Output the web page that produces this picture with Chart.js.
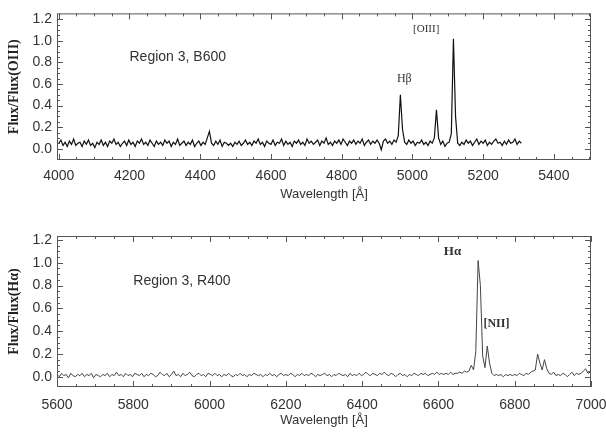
<!DOCTYPE html>
<html lang="en">
<head>
  <meta charset="UTF-8">
  <title>Region 3 spectra</title>
  <script src="https://cdn.jsdelivr.net/npm/chart.js"></script>
  <style>
    body {
      margin: 0;
      background: #fff;
    }
    canvas {
      display: block;
    }
  </style>
</head>
<body>
  <canvas id="blue-chart" width="606" height="216"></canvas>
  <canvas id="red-chart" width="606" height="217"></canvas>

  <script>
    // Blue spectrum (B600), sampled every 6 A from 4000 A
    const blueStart = 4000;
    const blueStep = 6;
    const blueFlux = [
      0.05, 0.08, 0.03, 0.06, 0.02, 0.07, 0.04, 0.09, 0.03, 0.05,
      0.06, 0.02, 0.07, 0.04, 0.08, 0.03, 0.05, 0.01, 0.06, 0.04,
      0.08, 0.03, 0.06, 0.02, 0.07, 0.05, 0.09, 0.04, 0.06, 0.02,
      0.05, 0.07, 0.03, 0.08, 0.04, 0.06, 0.02, 0.07, 0.05, 0.09,
      0.04, 0.06, 0.03, 0.08, 0.05, 0.02, 0.07, 0.04, 0.06, 0.03,
      0.08, 0.05, 0.07, 0.02, 0.06, 0.04, 0.09, 0.03, 0.05, 0.07,
      0.03, 0.06, 0.04, 0.08, 0.02, 0.05, 0.07, 0.03, 0.06, 0.04,
      0.10, 0.16, 0.05, 0.03, 0.07, 0.04, 0.08, 0.02, 0.06, 0.05,
      0.03, 0.05, 0.02, 0.06, 0.04, 0.07, 0.03, 0.05, 0.08, 0.04,
      0.06, 0.03, 0.07, 0.05, 0.09, 0.04, 0.06, 0.02, 0.07, 0.05,
      0.04, 0.08, 0.03, 0.06, 0.05, 0.09, 0.03, 0.07, 0.04, 0.06,
      0.02, 0.07, 0.05, 0.08, 0.04, 0.06, 0.03, 0.09, 0.05, 0.07,
      0.04, 0.06, 0.08, 0.03, 0.07, 0.05, 0.10, 0.04, 0.06, 0.03,
      0.07, 0.05, 0.08, 0.04, 0.09, 0.06, 0.03, 0.07, 0.05, 0.08,
      0.04, 0.07, 0.05, 0.09, 0.03, 0.06, 0.08, 0.04, 0.07, 0.05,
      0.08, 0.05, -0.01, 0.07, 0.09, 0.05, 0.07, 0.04, 0.08, 0.06,
      0.12, 0.50, 0.18, 0.06, 0.04, 0.08, 0.05, 0.07, 0.03, 0.06,
      0.05, 0.08, 0.04, 0.06, 0.03, 0.07, 0.05, 0.10, 0.36, 0.10,
      0.04, 0.07, 0.02, 0.05, 0.06, 0.14, 1.02, 0.30, 0.05, 0.03,
      0.06, 0.04, 0.08, 0.05, 0.07, 0.03, 0.06, 0.09, 0.04, 0.07,
      0.05, 0.08, 0.03, 0.06, 0.04, 0.07, 0.09, 0.05, 0.06, 0.03,
      0.07, 0.04, 0.08, 0.05, 0.06, 0.09, 0.04, 0.07, 0.05
    ];

    // Red spectrum (R400), sampled every 6 A from 5600 A
    const redStart = 5600;
    const redStep = 6;
    const redFlux = [
      0.02, 0.00, 0.03, 0.01, 0.02, -0.01, 0.03, 0.01, 0.00, 0.02,
      0.01, 0.03, 0.00, 0.02, 0.01, 0.03, -0.01, 0.02, 0.01, 0.00,
      0.02, 0.01, 0.03, 0.00, 0.02, 0.01, 0.04, 0.01, 0.02, 0.00,
      0.03, 0.01, 0.02, 0.00, 0.03, 0.02, 0.01, 0.03, 0.00, 0.02,
      0.01, 0.03, 0.02, 0.00, 0.01, 0.04, 0.02, 0.01, 0.03, 0.00,
      0.02, 0.05, 0.01, 0.02, 0.00, 0.03, 0.01, 0.02, 0.04, 0.01,
      0.00, 0.02, 0.03, 0.01, 0.02, 0.00, 0.03, 0.02, 0.01, 0.03,
      0.01, 0.02, 0.00, 0.02, 0.01, 0.03, 0.01, 0.00, 0.02, 0.01,
      0.03, 0.01, 0.02, 0.00, 0.02, 0.01, 0.03, 0.02, 0.01, 0.02,
      0.00, 0.02, 0.01, 0.03, 0.01, 0.02, 0.00, 0.02, 0.03, 0.01,
      0.02, 0.01, 0.03, 0.02, 0.00, 0.02, 0.01, 0.03, 0.01, 0.02,
      0.01, 0.03, 0.02, 0.00, 0.02, 0.01, 0.02, 0.03, 0.01, 0.02,
      0.00, 0.02, 0.01, 0.03, 0.02, 0.01, 0.02, 0.00, 0.03, 0.01,
      0.02, 0.01, 0.03, 0.01, 0.02, 0.04, 0.02, 0.01, 0.03, 0.02,
      0.01, 0.03, 0.02, 0.04, 0.02, 0.01, 0.03, 0.02, 0.00, 0.02,
      0.03, 0.01, 0.02, 0.00, 0.02, 0.01, 0.03, 0.02, 0.01, 0.03,
      0.02, 0.03, 0.01, 0.02, 0.03, 0.02, 0.04, 0.02, 0.03, 0.02,
      0.03, 0.02, 0.04, 0.02, 0.03, 0.03, 0.04, 0.03, 0.05, 0.04,
      0.05, 0.10, 0.06, 0.22, 1.02, 0.80, 0.18, 0.08, 0.27, 0.12,
      0.03, 0.01, 0.02, 0.01, 0.02, 0.00, 0.02, 0.01, 0.02, 0.01,
      0.02, 0.01, 0.03, 0.02, 0.01, 0.03, 0.02, 0.04, 0.05, 0.06,
      0.20, 0.12, 0.06, 0.15, 0.07, 0.03, 0.02, 0.04, 0.01, 0.02,
      0.01, 0.03, 0.02, 0.00, 0.02, 0.04, 0.01, 0.03, 0.02, 0.03,
      0.05, 0.07, 0.03, 0.04
    ];

    const blueTicks = [4000, 4200, 4400, 4600, 4800, 5000, 5200, 5400];
    const redTicks = [5600, 5800, 6000, 6200, 6400, 6600, 6800, 7000];
    const fluxTicks = [0, 0.2, 0.4, 0.6, 0.8, 1.0, 1.2];

    const blueWave = blueFlux.map((_, i) => blueStart + i * blueStep);
    const redWave = redFlux.map((_, i) => redStart + i * redStep);

    const sans = "'Liberation Sans', Arial, sans-serif";
    const serif = "'Liberation Serif', 'Times New Roman', serif";

    // Frame with inward ticks, like the original IDL plot
    const framePlugin = {
      id: 'frame',
      afterDraw(chart) {
        const { ctx, chartArea: a, scales } = chart;
        ctx.save();
        ctx.strokeStyle = '#555';
        ctx.lineWidth = 1;
        ctx.strokeRect(a.left + 0.5, a.top + 0.5, a.right - a.left - 1, a.bottom - a.top - 1);
        ctx.beginPath();
        const x = scales.x, y = scales.y;
        for (let v = Math.ceil(x.min / 50) * 50; v <= x.max; v += 50) {
          const px = Math.round(x.getPixelForValue(v)) + 0.5;
          const len = v % 200 === 0 ? 6 : 3;
          ctx.moveTo(px, a.bottom); ctx.lineTo(px, a.bottom - len);
          ctx.moveTo(px, a.top); ctx.lineTo(px, a.top + len);
        }
        for (let k = 0; k <= 24; k++) {
          const v = k * 0.05;
          const py = Math.round(y.getPixelForValue(v)) + 0.5;
          const len = k % 4 === 0 ? 6 : 3;
          ctx.moveTo(a.left, py); ctx.lineTo(a.left + len, py);
          ctx.moveTo(a.right, py); ctx.lineTo(a.right - len, py);
        }
        ctx.stroke();
        ctx.restore();
      }
    };

    // Text notes placed at data coordinates
    const notesPlugin = {
      id: 'notes',
      afterDatasetsDraw(chart, args, opts) {
        const { ctx, scales } = chart;
        ctx.save();
        ctx.fillStyle = '#333';
        ctx.textBaseline = 'middle';
        (opts.items || []).forEach(n => {
          ctx.font = n.font;
          ctx.textAlign = n.align || 'center';
          ctx.fillText(n.text, scales.x.getPixelForValue(n.x), scales.y.getPixelForValue(n.y));
        });
        ctx.restore();
      }
    };

    function makeChart(id, wave, flux, cfg) {
      new Chart(document.getElementById(id), {
        type: 'line',
        data: {
          datasets: [{
            data: wave.map((w, i) => ({ x: w, y: flux[i] })),
            borderColor: cfg.color,
            borderWidth: cfg.width,
            pointRadius: 0,
            tension: 0
          }]
        },
        options: {
          responsive: false,
          animation: false,
          layout: { padding: { top: cfg.padTop, right: 15, left: 0, bottom: 0 } },
          plugins: {
            legend: { display: false },
            tooltip: { enabled: false },
            notes: { items: cfg.notes }
          },
          scales: {
            x: {
              type: 'linear',
              min: cfg.xMin,
              max: cfg.xMax,
              afterBuildTicks: s => { s.ticks = cfg.xTicks.map(v => ({ value: v })); },
              afterFit: s => {
                s.height = cfg.xHeight;
                // let the last label run off the edge, as in the scan
                s.paddingLeft = 0;
                s.paddingRight = 0;
              },
              grid: { display: false, drawTicks: false },
              border: { display: false },
              ticks: {
                padding: cfg.tickPad,
                maxRotation: 0,
                autoSkip: false,
                color: '#333',
                font: { family: sans, size: 14 },
                callback: v => String(v)
              },
              title: {
                display: true,
                text: 'Wavelength [Å]',
                color: '#333',
                font: { family: sans, size: 13 },
                padding: { top: 0, bottom: cfg.titlePad }
              }
            },
            y: {
              min: cfg.yMin,
              max: cfg.yMax,
              afterBuildTicks: s => { s.ticks = fluxTicks.map(v => ({ value: v })); },
              afterFit: s => { s.width = 57; },
              grid: { display: false, drawTicks: false },
              border: { display: false },
              ticks: {
                padding: 5,
                color: '#333',
                font: { family: sans, size: 14 },
                callback: v => v.toFixed(1)
              },
              title: {
                display: true,
                text: cfg.yTitle,
                color: '#222',
                font: { family: serif, size: 14, weight: 'bold' },
                padding: { top: 6, bottom: 0 }
              }
            }
          }
        },
        plugins: [framePlugin, notesPlugin]
      });
    }

    makeChart('blue-chart', blueWave, blueFlux, {
      color: '#111',
      width: 1.2,
      padTop: 7,
      xHeight: 56,
      tickPad: 8,
      titlePad: 14,
      xMin: 3995, xMax: 5505,
      yMin: -0.105, yMax: 1.255,
      xTicks: blueTicks,
      yTitle: 'Flux/Flux(OIII)',
      notes: [
        { text: 'Region 3, B600', x: 4200, y: 0.85, align: 'left', font: '14px ' + sans },
        { text: 'Hβ', x: 4977, y: 0.65, font: '12px ' + serif },
        { text: '[OIII]', x: 5039, y: 1.11, font: '11px ' + serif }
      ]
    });

    makeChart('red-chart', redWave, redFlux, {
      color: '#444',
      width: 1,
      padTop: 20,
      xHeight: 46,
      tickPad: 10,
      titlePad: 5,
      xMin: 5600, xMax: 7000,
      yMin: -0.09, yMax: 1.235,
      xTicks: redTicks,
      yTitle: 'Flux/Flux(Hα)',
      notes: [
        { text: 'Region 3, R400', x: 5800, y: 0.84, align: 'left', font: '14px ' + sans },
        { text: 'Hα', x: 6637, y: 1.10, font: 'bold 13px ' + serif },
        { text: '[NII]', x: 6752, y: 0.46, font: 'bold 12px ' + serif }
      ]
    });
  </script>
</body>
</html>
